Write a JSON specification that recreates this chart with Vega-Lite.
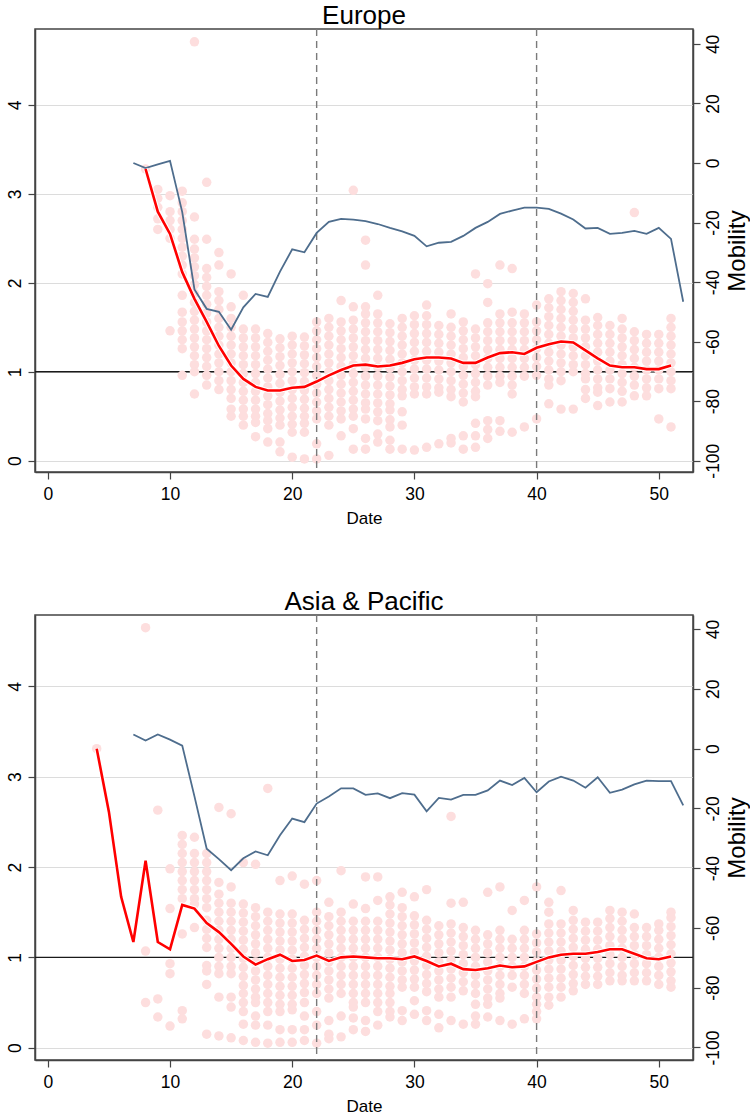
{
"$schema":"https://vega.github.io/schema/vega-lite/v6.json",
"padding":{"left":5,"top":2,"right":0,"bottom":0},
"config":{
"font":"Liberation Sans",
"view":{"stroke":"#444444","strokeWidth":1.5},
"axis":{"labelFont":"Liberation Sans","labelFontSize":17.5,"labelColor":"#000000","titleFont":"Liberation Sans","titleFontSize":17,"titleFontWeight":"normal","titleColor":"#000000","domainColor":"#444444","domainWidth":1.5,"tickColor":"#444444","tickSize":7,"tickWidth":1.2,"gridColor":"#dcdcdc","gridWidth":1},
"title":{"font":"Liberation Sans","fontSize":26,"fontWeight":"normal","color":"#000000","offset":-1},
"concat":{"spacing":60}
},
"datasets":{
"eup":[{"d":8,"r":3.28},
{"d":9,"r":3.05},{"d":9,"r":2.95},{"d":9,"r":2.85},{"d":9,"r":2.72},{"d":9,"r":2.6},
{"d":10,"r":2.98},{"d":10,"r":2.8},{"d":10,"r":2.7},{"d":10,"r":2.6},{"d":10,"r":2.5},{"d":10,"r":1.46},
{"d":11,"r":3.03},{"d":11,"r":2.9},{"d":11,"r":2.8},{"d":11,"r":2.7},{"d":11,"r":2.6},{"d":11,"r":2.5},{"d":11,"r":2.4},{"d":11,"r":2.3},{"d":11,"r":2.2},{"d":11,"r":2.1},{"d":11,"r":1.86},{"d":11,"r":1.67},{"d":11,"r":1.56},{"d":11,"r":1.46},{"d":11,"r":1.36},{"d":11,"r":1.26},{"d":11,"r":0.96},
{"d":12,"r":4.71},{"d":12,"r":2.74},{"d":12,"r":2.49},{"d":12,"r":2.38},{"d":12,"r":2.28},{"d":12,"r":2.18},{"d":12,"r":2.08},{"d":12,"r":1.98},{"d":12,"r":1.88},{"d":12,"r":1.78},{"d":12,"r":1.68},{"d":12,"r":1.58},{"d":12,"r":1.48},{"d":12,"r":1.38},{"d":12,"r":1.28},{"d":12,"r":1.18},{"d":12,"r":1.08},{"d":12,"r":1.0},{"d":12,"r":0.75},
{"d":13,"r":3.13},{"d":13,"r":2.49},{"d":13,"r":2.16},{"d":13,"r":2.06},{"d":13,"r":1.96},{"d":13,"r":1.86},{"d":13,"r":1.76},{"d":13,"r":1.66},{"d":13,"r":1.56},{"d":13,"r":1.46},{"d":13,"r":1.36},{"d":13,"r":1.26},{"d":13,"r":1.16},{"d":13,"r":1.06},{"d":13,"r":0.96},{"d":13,"r":0.85},
{"d":14,"r":2.34},{"d":14,"r":2.2},{"d":14,"r":1.9},{"d":14,"r":1.8},{"d":14,"r":1.7},{"d":14,"r":1.6},{"d":14,"r":1.5},{"d":14,"r":1.4},{"d":14,"r":1.3},{"d":14,"r":1.2},{"d":14,"r":1.1},{"d":14,"r":1.0},{"d":14,"r":0.9},{"d":14,"r":0.8},
{"d":15,"r":2.1},{"d":15,"r":1.73},{"d":15,"r":1.6},{"d":15,"r":1.5},{"d":15,"r":1.4},{"d":15,"r":1.3},{"d":15,"r":1.2},{"d":15,"r":1.1},{"d":15,"r":1.0},{"d":15,"r":0.9},{"d":15,"r":0.8},{"d":15,"r":0.7},{"d":15,"r":0.58},{"d":15,"r":0.5},
{"d":16,"r":1.86},{"d":16,"r":1.48},{"d":16,"r":1.38},{"d":16,"r":1.28},{"d":16,"r":1.18},{"d":16,"r":1.08},{"d":16,"r":0.98},{"d":16,"r":0.88},{"d":16,"r":0.78},{"d":16,"r":0.68},{"d":16,"r":0.58},{"d":16,"r":0.5},{"d":16,"r":0.4},
{"d":17,"r":1.48},{"d":17,"r":1.38},{"d":17,"r":1.28},{"d":17,"r":1.18},{"d":17,"r":1.08},{"d":17,"r":0.98},{"d":17,"r":0.88},{"d":17,"r":0.78},{"d":17,"r":0.68},{"d":17,"r":0.58},{"d":17,"r":0.5},{"d":17,"r":0.43},{"d":17,"r":0.27},
{"d":18,"r":1.43},{"d":18,"r":1.33},{"d":18,"r":1.23},{"d":18,"r":1.13},{"d":18,"r":1.03},{"d":18,"r":0.93},{"d":18,"r":0.83},{"d":18,"r":0.73},{"d":18,"r":0.63},{"d":18,"r":0.53},{"d":18,"r":0.45},{"d":18,"r":0.36},{"d":18,"r":0.21},
{"d":19,"r":1.37},{"d":19,"r":1.27},{"d":19,"r":1.17},{"d":19,"r":1.07},{"d":19,"r":0.97},{"d":19,"r":0.87},{"d":19,"r":0.77},{"d":19,"r":0.67},{"d":19,"r":0.57},{"d":19,"r":0.48},{"d":19,"r":0.4},{"d":19,"r":0.21},{"d":19,"r":0.1},
{"d":20,"r":1.4},{"d":20,"r":1.3},{"d":20,"r":1.2},{"d":20,"r":1.1},{"d":20,"r":1.0},{"d":20,"r":0.9},{"d":20,"r":0.8},{"d":20,"r":0.7},{"d":20,"r":0.6},{"d":20,"r":0.5},{"d":20,"r":0.41},{"d":20,"r":0.32},{"d":20,"r":0.04},
{"d":21,"r":1.39},{"d":21,"r":1.29},{"d":21,"r":1.19},{"d":21,"r":1.09},{"d":21,"r":0.99},{"d":21,"r":0.89},{"d":21,"r":0.79},{"d":21,"r":0.69},{"d":21,"r":0.59},{"d":21,"r":0.5},{"d":21,"r":0.42},{"d":21,"r":0.32},{"d":21,"r":0.02},
{"d":22,"r":1.56},{"d":22,"r":1.46},{"d":22,"r":1.36},{"d":22,"r":1.26},{"d":22,"r":1.16},{"d":22,"r":1.06},{"d":22,"r":0.96},{"d":22,"r":0.86},{"d":22,"r":0.76},{"d":22,"r":0.66},{"d":22,"r":0.56},{"d":22,"r":0.47},{"d":22,"r":0.19},{"d":22,"r":0.02},
{"d":23,"r":1.6},{"d":23,"r":1.5},{"d":23,"r":1.4},{"d":23,"r":1.3},{"d":23,"r":1.2},{"d":23,"r":1.1},{"d":23,"r":1.0},{"d":23,"r":0.9},{"d":23,"r":0.8},{"d":23,"r":0.7},{"d":23,"r":0.6},{"d":23,"r":0.5},{"d":23,"r":0.4},{"d":23,"r":0.06},
{"d":24,"r":1.8},{"d":24,"r":1.56},{"d":24,"r":1.46},{"d":24,"r":1.36},{"d":24,"r":1.26},{"d":24,"r":1.16},{"d":24,"r":1.06},{"d":24,"r":0.96},{"d":24,"r":0.86},{"d":24,"r":0.76},{"d":24,"r":0.66},{"d":24,"r":0.56},{"d":24,"r":0.47},{"d":24,"r":0.28},
{"d":25,"r":3.04},{"d":25,"r":1.73},{"d":25,"r":1.58},{"d":25,"r":1.48},{"d":25,"r":1.38},{"d":25,"r":1.28},{"d":25,"r":1.18},{"d":25,"r":1.08},{"d":25,"r":0.98},{"d":25,"r":0.88},{"d":25,"r":0.78},{"d":25,"r":0.68},{"d":25,"r":0.58},{"d":25,"r":0.5},{"d":25,"r":0.36},{"d":25,"r":0.13},
{"d":26,"r":2.48},{"d":26,"r":2.2},{"d":26,"r":1.73},{"d":26,"r":1.65},{"d":26,"r":1.55},{"d":26,"r":1.45},{"d":26,"r":1.35},{"d":26,"r":1.25},{"d":26,"r":1.15},{"d":26,"r":1.05},{"d":26,"r":0.95},{"d":26,"r":0.85},{"d":26,"r":0.75},{"d":26,"r":0.65},{"d":26,"r":0.58},{"d":26,"r":0.47},{"d":26,"r":0.25},{"d":26,"r":0.13},
{"d":27,"r":1.86},{"d":27,"r":1.65},{"d":27,"r":1.55},{"d":27,"r":1.45},{"d":27,"r":1.35},{"d":27,"r":1.25},{"d":27,"r":1.15},{"d":27,"r":1.05},{"d":27,"r":0.95},{"d":27,"r":0.85},{"d":27,"r":0.75},{"d":27,"r":0.65},{"d":27,"r":0.55},{"d":27,"r":0.45},{"d":27,"r":0.3},{"d":27,"r":0.21},
{"d":28,"r":1.54},{"d":28,"r":1.44},{"d":28,"r":1.34},{"d":28,"r":1.24},{"d":28,"r":1.14},{"d":28,"r":1.04},{"d":28,"r":0.94},{"d":28,"r":0.84},{"d":28,"r":0.74},{"d":28,"r":0.64},{"d":28,"r":0.57},{"d":28,"r":0.46},{"d":28,"r":0.38},{"d":28,"r":0.23},{"d":28,"r":0.13},
{"d":29,"r":1.6},{"d":29,"r":1.5},{"d":29,"r":1.4},{"d":29,"r":1.3},{"d":29,"r":1.2},{"d":29,"r":1.1},{"d":29,"r":1.0},{"d":29,"r":0.9},{"d":29,"r":0.8},{"d":29,"r":0.73},{"d":29,"r":0.55},{"d":29,"r":0.4},{"d":29,"r":0.13},
{"d":30,"r":1.63},{"d":30,"r":1.53},{"d":30,"r":1.43},{"d":30,"r":1.33},{"d":30,"r":1.23},{"d":30,"r":1.13},{"d":30,"r":1.03},{"d":30,"r":0.93},{"d":30,"r":0.83},{"d":30,"r":0.75},{"d":30,"r":0.12},
{"d":31,"r":1.75},{"d":31,"r":1.63},{"d":31,"r":1.53},{"d":31,"r":1.43},{"d":31,"r":1.33},{"d":31,"r":1.23},{"d":31,"r":1.13},{"d":31,"r":1.03},{"d":31,"r":0.93},{"d":31,"r":0.83},{"d":31,"r":0.75},{"d":31,"r":0.15},
{"d":32,"r":1.52},{"d":32,"r":1.42},{"d":32,"r":1.32},{"d":32,"r":1.22},{"d":32,"r":1.12},{"d":32,"r":1.02},{"d":32,"r":0.92},{"d":32,"r":0.82},{"d":32,"r":0.77},{"d":32,"r":0.19},
{"d":33,"r":1.65},{"d":33,"r":1.5},{"d":33,"r":1.4},{"d":33,"r":1.3},{"d":33,"r":1.2},{"d":33,"r":1.1},{"d":33,"r":1.0},{"d":33,"r":0.9},{"d":33,"r":0.8},{"d":33,"r":0.72},{"d":33,"r":0.25},{"d":33,"r":0.2},
{"d":34,"r":1.56},{"d":34,"r":1.46},{"d":34,"r":1.36},{"d":34,"r":1.26},{"d":34,"r":1.16},{"d":34,"r":1.06},{"d":34,"r":0.96},{"d":34,"r":0.86},{"d":34,"r":0.76},{"d":34,"r":0.66},{"d":34,"r":0.28},{"d":34,"r":0.13},
{"d":35,"r":2.1},{"d":35,"r":1.48},{"d":35,"r":1.38},{"d":35,"r":1.28},{"d":35,"r":1.18},{"d":35,"r":1.08},{"d":35,"r":0.98},{"d":35,"r":0.88},{"d":35,"r":0.78},{"d":35,"r":0.72},{"d":35,"r":0.42},{"d":35,"r":0.28},{"d":35,"r":0.15},
{"d":36,"r":1.99},{"d":36,"r":1.78},{"d":36,"r":1.55},{"d":36,"r":1.45},{"d":36,"r":1.35},{"d":36,"r":1.25},{"d":36,"r":1.15},{"d":36,"r":1.05},{"d":36,"r":0.95},{"d":36,"r":0.85},{"d":36,"r":0.45},{"d":36,"r":0.35},{"d":36,"r":0.25},
{"d":37,"r":2.2},{"d":37,"r":1.65},{"d":37,"r":1.55},{"d":37,"r":1.45},{"d":37,"r":1.35},{"d":37,"r":1.25},{"d":37,"r":1.15},{"d":37,"r":1.05},{"d":37,"r":0.95},{"d":37,"r":0.88},{"d":37,"r":0.45},{"d":37,"r":0.33},
{"d":38,"r":2.16},{"d":38,"r":1.67},{"d":38,"r":1.55},{"d":38,"r":1.45},{"d":38,"r":1.35},{"d":38,"r":1.25},{"d":38,"r":1.15},{"d":38,"r":1.05},{"d":38,"r":0.95},{"d":38,"r":0.85},{"d":38,"r":0.75},{"d":38,"r":0.32},
{"d":39,"r":1.65},{"d":39,"r":1.55},{"d":39,"r":1.45},{"d":39,"r":1.35},{"d":39,"r":1.25},{"d":39,"r":1.15},{"d":39,"r":1.05},{"d":39,"r":0.95},{"d":39,"r":0.38},
{"d":40,"r":1.75},{"d":40,"r":1.56},{"d":40,"r":1.46},{"d":40,"r":1.36},{"d":40,"r":1.26},{"d":40,"r":1.16},{"d":40,"r":1.06},{"d":40,"r":0.96},{"d":40,"r":0.47},
{"d":41,"r":1.82},{"d":41,"r":1.72},{"d":41,"r":1.62},{"d":41,"r":1.52},{"d":41,"r":1.42},{"d":41,"r":1.32},{"d":41,"r":1.22},{"d":41,"r":1.12},{"d":41,"r":1.02},{"d":41,"r":0.92},{"d":41,"r":0.85},{"d":41,"r":0.64},
{"d":42,"r":1.9},{"d":42,"r":1.8},{"d":42,"r":1.7},{"d":42,"r":1.6},{"d":42,"r":1.5},{"d":42,"r":1.4},{"d":42,"r":1.3},{"d":42,"r":1.2},{"d":42,"r":1.1},{"d":42,"r":1.0},{"d":42,"r":0.9},{"d":42,"r":0.58},
{"d":43,"r":1.88},{"d":43,"r":1.78},{"d":43,"r":1.68},{"d":43,"r":1.58},{"d":43,"r":1.48},{"d":43,"r":1.38},{"d":43,"r":1.28},{"d":43,"r":1.18},{"d":43,"r":1.08},{"d":43,"r":1.0},{"d":43,"r":0.58},
{"d":44,"r":1.82},{"d":44,"r":1.58},{"d":44,"r":1.48},{"d":44,"r":1.38},{"d":44,"r":1.28},{"d":44,"r":1.18},{"d":44,"r":1.08},{"d":44,"r":0.98},{"d":44,"r":0.92},{"d":44,"r":0.8},{"d":44,"r":0.7},
{"d":45,"r":1.61},{"d":45,"r":1.52},{"d":45,"r":1.42},{"d":45,"r":1.32},{"d":45,"r":1.22},{"d":45,"r":1.12},{"d":45,"r":1.02},{"d":45,"r":0.92},{"d":45,"r":0.82},{"d":45,"r":0.77},{"d":45,"r":0.62},
{"d":46,"r":1.52},{"d":46,"r":1.42},{"d":46,"r":1.32},{"d":46,"r":1.22},{"d":46,"r":1.12},{"d":46,"r":1.02},{"d":46,"r":0.92},{"d":46,"r":0.81},{"d":46,"r":0.66},
{"d":47,"r":1.6},{"d":47,"r":1.48},{"d":47,"r":1.38},{"d":47,"r":1.28},{"d":47,"r":1.18},{"d":47,"r":1.08},{"d":47,"r":0.98},{"d":47,"r":0.88},{"d":47,"r":0.78},{"d":47,"r":0.66},
{"d":48,"r":2.79},{"d":48,"r":1.45},{"d":48,"r":1.35},{"d":48,"r":1.25},{"d":48,"r":1.15},{"d":48,"r":1.05},{"d":48,"r":0.95},{"d":48,"r":0.85},{"d":48,"r":0.73},
{"d":49,"r":1.42},{"d":49,"r":1.32},{"d":49,"r":1.22},{"d":49,"r":1.12},{"d":49,"r":1.02},{"d":49,"r":0.92},{"d":49,"r":0.82},{"d":49,"r":0.73},
{"d":50,"r":1.42},{"d":50,"r":1.32},{"d":50,"r":1.22},{"d":50,"r":1.12},{"d":50,"r":1.02},{"d":50,"r":0.92},{"d":50,"r":0.81},{"d":50,"r":0.47},
{"d":51,"r":1.6},{"d":51,"r":1.5},{"d":51,"r":1.4},{"d":51,"r":1.3},{"d":51,"r":1.2},{"d":51,"r":1.1},{"d":51,"r":1.0},{"d":51,"r":0.9},{"d":51,"r":0.81},{"d":51,"r":0.38}],
"eur":[{"d":8,"r":3.28},{"d":9,"r":2.8},{"d":10,"r":2.55},{"d":11,"r":2.12},{"d":12,"r":1.82},{"d":13,"r":1.56},{"d":14,"r":1.29},{"d":15,"r":1.07},{"d":16,"r":0.92},{"d":17,"r":0.83},{"d":18,"r":0.79},{"d":19,"r":0.79},{"d":20,"r":0.82},{"d":21,"r":0.83},{"d":22,"r":0.89},{"d":23,"r":0.96},{"d":24,"r":1.02},{"d":25,"r":1.07},{"d":26,"r":1.08},{"d":27,"r":1.06},{"d":28,"r":1.07},{"d":29,"r":1.1},{"d":30,"r":1.14},{"d":31,"r":1.16},{"d":32,"r":1.16},{"d":33,"r":1.15},{"d":34,"r":1.1},{"d":35,"r":1.1},{"d":36,"r":1.16},{"d":37,"r":1.21},{"d":38,"r":1.22},{"d":39,"r":1.2},{"d":40,"r":1.27},{"d":41,"r":1.31},{"d":42,"r":1.34},{"d":43,"r":1.33},{"d":44,"r":1.24},{"d":45,"r":1.15},{"d":46,"r":1.07},{"d":47,"r":1.05},{"d":48,"r":1.05},{"d":49,"r":1.03},{"d":50,"r":1.03},{"d":51,"r":1.07}],
"eum":[{"d":7,"m":0},{"d":8,"m":-1.7},{"d":9,"m":-0.5},{"d":10,"m":0.7},{"d":11,"m":-16.5},{"d":12,"m":-42.5},{"d":13,"m":-49},{"d":14,"m":-50},{"d":15,"m":-56},{"d":16,"m":-48.5},{"d":17,"m":-44},{"d":18,"m":-45},{"d":19,"m":-36.5},{"d":20,"m":-29},{"d":21,"m":-30},{"d":22,"m":-23.5},{"d":23,"m":-19.8},{"d":24,"m":-18.8},{"d":25,"m":-19},{"d":26,"m":-19.5},{"d":27,"m":-20.5},{"d":28,"m":-21.8},{"d":29,"m":-23},{"d":30,"m":-24.5},{"d":31,"m":-28},{"d":32,"m":-26.8},{"d":33,"m":-26.5},{"d":34,"m":-24.5},{"d":35,"m":-21.8},{"d":36,"m":-19.8},{"d":37,"m":-17.1},{"d":38,"m":-16},{"d":39,"m":-15},{"d":40,"m":-15},{"d":41,"m":-15.4},{"d":42,"m":-17},{"d":43,"m":-19},{"d":44,"m":-22},{"d":45,"m":-21.8},{"d":46,"m":-23.8},{"d":47,"m":-23.5},{"d":48,"m":-22.8},{"d":49,"m":-23.8},{"d":50,"m":-21.8},{"d":51,"m":-25.5},{"d":52,"m":-46.6}],
"app":[{"d":4,"r":3.31},
{"d":8,"r":4.65},{"d":8,"r":1.07},{"d":8,"r":0.5},
{"d":9,"r":2.63},{"d":9,"r":0.54},{"d":9,"r":0.34},
{"d":10,"r":1.98},{"d":10,"r":1.54},{"d":10,"r":0.93},{"d":10,"r":0.82},{"d":10,"r":0.24},
{"d":11,"r":2.35},{"d":11,"r":2.25},{"d":11,"r":2.15},{"d":11,"r":2.05},{"d":11,"r":1.95},{"d":11,"r":1.85},{"d":11,"r":1.75},{"d":11,"r":1.65},{"d":11,"r":1.26},{"d":11,"r":0.41},{"d":11,"r":0.32},
{"d":12,"r":2.33},{"d":12,"r":2.15},{"d":12,"r":2.05},{"d":12,"r":1.95},{"d":12,"r":1.85},{"d":12,"r":1.75},{"d":12,"r":1.65},{"d":12,"r":1.59},{"d":12,"r":1.33},
{"d":13,"r":2.15},{"d":13,"r":2.05},{"d":13,"r":1.95},{"d":13,"r":1.85},{"d":13,"r":1.75},{"d":13,"r":1.65},{"d":13,"r":1.55},{"d":13,"r":1.41},{"d":13,"r":1.31},{"d":13,"r":1.21},{"d":13,"r":1.11},{"d":13,"r":0.91},{"d":13,"r":0.85},{"d":13,"r":0.7},{"d":13,"r":0.15},
{"d":14,"r":2.66},{"d":14,"r":1.83},{"d":14,"r":1.7},{"d":14,"r":1.6},{"d":14,"r":1.5},{"d":14,"r":1.4},{"d":14,"r":1.3},{"d":14,"r":1.2},{"d":14,"r":1.1},{"d":14,"r":1.0},{"d":14,"r":0.9},{"d":14,"r":0.82},{"d":14,"r":0.56},{"d":14,"r":0.13},
{"d":15,"r":2.59},{"d":15,"r":1.78},{"d":15,"r":1.6},{"d":15,"r":1.5},{"d":15,"r":1.4},{"d":15,"r":1.3},{"d":15,"r":1.2},{"d":15,"r":1.1},{"d":15,"r":1.0},{"d":15,"r":0.9},{"d":15,"r":0.82},{"d":15,"r":0.56},{"d":15,"r":0.45},{"d":15,"r":0.11},
{"d":16,"r":2.05},{"d":16,"r":1.59},{"d":16,"r":1.49},{"d":16,"r":1.39},{"d":16,"r":1.29},{"d":16,"r":1.19},{"d":16,"r":1.09},{"d":16,"r":0.99},{"d":16,"r":0.89},{"d":16,"r":0.79},{"d":16,"r":0.69},{"d":16,"r":0.6},{"d":16,"r":0.5},{"d":16,"r":0.4},{"d":16,"r":0.26},{"d":16,"r":0.08},
{"d":17,"r":2.03},{"d":17,"r":1.55},{"d":17,"r":1.45},{"d":17,"r":1.35},{"d":17,"r":1.25},{"d":17,"r":1.15},{"d":17,"r":1.05},{"d":17,"r":0.95},{"d":17,"r":0.85},{"d":17,"r":0.75},{"d":17,"r":0.65},{"d":17,"r":0.56},{"d":17,"r":0.5},{"d":17,"r":0.35},{"d":17,"r":0.25},{"d":17,"r":0.06},
{"d":18,"r":2.87},{"d":18,"r":1.5},{"d":18,"r":1.4},{"d":18,"r":1.3},{"d":18,"r":1.2},{"d":18,"r":1.1},{"d":18,"r":1.0},{"d":18,"r":0.9},{"d":18,"r":0.8},{"d":18,"r":0.7},{"d":18,"r":0.6},{"d":18,"r":0.5},{"d":18,"r":0.4},{"d":18,"r":0.25},{"d":18,"r":0.05},
{"d":19,"r":1.85},{"d":19,"r":1.48},{"d":19,"r":1.38},{"d":19,"r":1.28},{"d":19,"r":1.18},{"d":19,"r":1.08},{"d":19,"r":0.98},{"d":19,"r":0.88},{"d":19,"r":0.78},{"d":19,"r":0.68},{"d":19,"r":0.58},{"d":19,"r":0.48},{"d":19,"r":0.4},{"d":19,"r":0.2},{"d":19,"r":0.06},
{"d":20,"r":1.9},{"d":20,"r":1.48},{"d":20,"r":1.38},{"d":20,"r":1.28},{"d":20,"r":1.18},{"d":20,"r":1.08},{"d":20,"r":0.98},{"d":20,"r":0.88},{"d":20,"r":0.78},{"d":20,"r":0.68},{"d":20,"r":0.58},{"d":20,"r":0.48},{"d":20,"r":0.42},{"d":20,"r":0.2},{"d":20,"r":0.06},
{"d":21,"r":1.81},{"d":21,"r":1.41},{"d":21,"r":1.31},{"d":21,"r":1.21},{"d":21,"r":1.11},{"d":21,"r":1.01},{"d":21,"r":0.91},{"d":21,"r":0.81},{"d":21,"r":0.71},{"d":21,"r":0.61},{"d":21,"r":0.5},{"d":21,"r":0.35},{"d":21,"r":0.2},{"d":21,"r":0.08},
{"d":22,"r":1.85},{"d":22,"r":1.5},{"d":22,"r":1.4},{"d":22,"r":1.3},{"d":22,"r":1.2},{"d":22,"r":1.1},{"d":22,"r":1.0},{"d":22,"r":0.9},{"d":22,"r":0.8},{"d":22,"r":0.7},{"d":22,"r":0.6},{"d":22,"r":0.4},{"d":22,"r":0.25},{"d":22,"r":0.05},
{"d":23,"r":1.61},{"d":23,"r":1.45},{"d":23,"r":1.35},{"d":23,"r":1.25},{"d":23,"r":1.15},{"d":23,"r":1.05},{"d":23,"r":0.95},{"d":23,"r":0.85},{"d":23,"r":0.75},{"d":23,"r":0.65},{"d":23,"r":0.55},{"d":23,"r":0.3},{"d":23,"r":0.15},{"d":23,"r":0.1},
{"d":24,"r":1.96},{"d":24,"r":1.5},{"d":24,"r":1.4},{"d":24,"r":1.3},{"d":24,"r":1.2},{"d":24,"r":1.1},{"d":24,"r":1.0},{"d":24,"r":0.9},{"d":24,"r":0.8},{"d":24,"r":0.7},{"d":24,"r":0.6},{"d":24,"r":0.35},{"d":24,"r":0.12},
{"d":25,"r":1.59},{"d":25,"r":1.4},{"d":25,"r":1.3},{"d":25,"r":1.2},{"d":25,"r":1.1},{"d":25,"r":1.0},{"d":25,"r":0.9},{"d":25,"r":0.8},{"d":25,"r":0.7},{"d":25,"r":0.6},{"d":25,"r":0.5},{"d":25,"r":0.45},{"d":25,"r":0.33},{"d":25,"r":0.2},
{"d":26,"r":1.89},{"d":26,"r":1.54},{"d":26,"r":1.4},{"d":26,"r":1.3},{"d":26,"r":1.2},{"d":26,"r":1.1},{"d":26,"r":1.0},{"d":26,"r":0.9},{"d":26,"r":0.8},{"d":26,"r":0.7},{"d":26,"r":0.6},{"d":26,"r":0.5},{"d":26,"r":0.3},{"d":26,"r":0.18},
{"d":27,"r":1.89},{"d":27,"r":1.63},{"d":27,"r":1.4},{"d":27,"r":1.3},{"d":27,"r":1.2},{"d":27,"r":1.1},{"d":27,"r":1.0},{"d":27,"r":0.9},{"d":27,"r":0.8},{"d":27,"r":0.7},{"d":27,"r":0.6},{"d":27,"r":0.5},{"d":27,"r":0.4},{"d":27,"r":0.25},
{"d":28,"r":1.67},{"d":28,"r":1.58},{"d":28,"r":1.48},{"d":28,"r":1.38},{"d":28,"r":1.28},{"d":28,"r":1.18},{"d":28,"r":1.08},{"d":28,"r":0.98},{"d":28,"r":0.88},{"d":28,"r":0.78},{"d":28,"r":0.68},{"d":28,"r":0.6},{"d":28,"r":0.5},{"d":28,"r":0.4},{"d":28,"r":0.34},
{"d":29,"r":1.72},{"d":29,"r":1.55},{"d":29,"r":1.45},{"d":29,"r":1.35},{"d":29,"r":1.25},{"d":29,"r":1.15},{"d":29,"r":1.05},{"d":29,"r":0.95},{"d":29,"r":0.85},{"d":29,"r":0.75},{"d":29,"r":0.67},{"d":29,"r":0.41},{"d":29,"r":0.3},
{"d":30,"r":1.67},{"d":30,"r":1.46},{"d":30,"r":1.36},{"d":30,"r":1.26},{"d":30,"r":1.16},{"d":30,"r":1.06},{"d":30,"r":0.96},{"d":30,"r":0.86},{"d":30,"r":0.76},{"d":30,"r":0.67},{"d":30,"r":0.52},{"d":30,"r":0.37},
{"d":31,"r":1.75},{"d":31,"r":1.41},{"d":31,"r":1.31},{"d":31,"r":1.21},{"d":31,"r":1.11},{"d":31,"r":1.01},{"d":31,"r":0.91},{"d":31,"r":0.81},{"d":31,"r":0.71},{"d":31,"r":0.62},{"d":31,"r":0.41},{"d":31,"r":0.3},
{"d":32,"r":1.35},{"d":32,"r":1.25},{"d":32,"r":1.15},{"d":32,"r":1.05},{"d":32,"r":0.95},{"d":32,"r":0.85},{"d":32,"r":0.75},{"d":32,"r":0.65},{"d":32,"r":0.56},{"d":32,"r":0.37},{"d":32,"r":0.22},
{"d":33,"r":2.56},{"d":33,"r":1.6},{"d":33,"r":1.37},{"d":33,"r":1.27},{"d":33,"r":1.17},{"d":33,"r":1.07},{"d":33,"r":0.97},{"d":33,"r":0.87},{"d":33,"r":0.77},{"d":33,"r":0.67},{"d":33,"r":0.56},{"d":33,"r":0.3},
{"d":34,"r":1.61},{"d":34,"r":1.33},{"d":34,"r":1.23},{"d":34,"r":1.13},{"d":34,"r":1.03},{"d":34,"r":0.93},{"d":34,"r":0.83},{"d":34,"r":0.73},{"d":34,"r":0.63},{"d":34,"r":0.26},
{"d":35,"r":1.3},{"d":35,"r":1.2},{"d":35,"r":1.1},{"d":35,"r":1.0},{"d":35,"r":0.9},{"d":35,"r":0.8},{"d":35,"r":0.7},{"d":35,"r":0.6},{"d":35,"r":0.48},{"d":35,"r":0.35},{"d":35,"r":0.26},
{"d":36,"r":1.72},{"d":36,"r":1.25},{"d":36,"r":1.15},{"d":36,"r":1.05},{"d":36,"r":0.95},{"d":36,"r":0.85},{"d":36,"r":0.75},{"d":36,"r":0.65},{"d":36,"r":0.55},{"d":36,"r":0.48},{"d":36,"r":0.34},
{"d":37,"r":1.78},{"d":37,"r":1.3},{"d":37,"r":1.2},{"d":37,"r":1.1},{"d":37,"r":1.0},{"d":37,"r":0.9},{"d":37,"r":0.8},{"d":37,"r":0.7},{"d":37,"r":0.6},{"d":37,"r":0.55},{"d":37,"r":0.3},
{"d":38,"r":1.52},{"d":38,"r":1.2},{"d":38,"r":1.1},{"d":38,"r":1.0},{"d":38,"r":0.9},{"d":38,"r":0.8},{"d":38,"r":0.67},{"d":38,"r":0.26},
{"d":39,"r":1.63},{"d":39,"r":1.3},{"d":39,"r":1.2},{"d":39,"r":1.1},{"d":39,"r":1.0},{"d":39,"r":0.9},{"d":39,"r":0.8},{"d":39,"r":0.7},{"d":39,"r":0.6},{"d":39,"r":0.32},
{"d":40,"r":1.78},{"d":40,"r":1.26},{"d":40,"r":1.16},{"d":40,"r":1.06},{"d":40,"r":0.96},{"d":40,"r":0.86},{"d":40,"r":0.76},{"d":40,"r":0.66},{"d":40,"r":0.56},{"d":40,"r":0.48},{"d":40,"r":0.4},{"d":40,"r":0.32},
{"d":41,"r":1.61},{"d":41,"r":1.5},{"d":41,"r":1.37},{"d":41,"r":1.27},{"d":41,"r":1.17},{"d":41,"r":1.07},{"d":41,"r":0.97},{"d":41,"r":0.87},{"d":41,"r":0.77},{"d":41,"r":0.67},{"d":41,"r":0.56},{"d":41,"r":0.47},
{"d":42,"r":1.74},{"d":42,"r":1.37},{"d":42,"r":1.27},{"d":42,"r":1.17},{"d":42,"r":1.07},{"d":42,"r":0.97},{"d":42,"r":0.87},{"d":42,"r":0.77},{"d":42,"r":0.67},{"d":42,"r":0.56},
{"d":43,"r":1.52},{"d":43,"r":1.41},{"d":43,"r":1.31},{"d":43,"r":1.21},{"d":43,"r":1.11},{"d":43,"r":1.01},{"d":43,"r":0.91},{"d":43,"r":0.81},{"d":43,"r":0.71},{"d":43,"r":0.63},
{"d":44,"r":1.39},{"d":44,"r":1.29},{"d":44,"r":1.19},{"d":44,"r":1.09},{"d":44,"r":0.99},{"d":44,"r":0.89},{"d":44,"r":0.79},{"d":44,"r":0.7},
{"d":45,"r":1.39},{"d":45,"r":1.29},{"d":45,"r":1.19},{"d":45,"r":1.09},{"d":45,"r":0.99},{"d":45,"r":0.89},{"d":45,"r":0.79},{"d":45,"r":0.7},
{"d":46,"r":1.52},{"d":46,"r":1.43},{"d":46,"r":1.33},{"d":46,"r":1.23},{"d":46,"r":1.13},{"d":46,"r":1.03},{"d":46,"r":0.93},{"d":46,"r":0.83},{"d":46,"r":0.74},
{"d":47,"r":1.5},{"d":47,"r":1.4},{"d":47,"r":1.3},{"d":47,"r":1.2},{"d":47,"r":1.1},{"d":47,"r":1.0},{"d":47,"r":0.9},{"d":47,"r":0.8},{"d":47,"r":0.74},
{"d":48,"r":1.48},{"d":48,"r":1.33},{"d":48,"r":1.23},{"d":48,"r":1.13},{"d":48,"r":1.03},{"d":48,"r":0.93},{"d":48,"r":0.83},{"d":48,"r":0.74},
{"d":49,"r":1.33},{"d":49,"r":1.23},{"d":49,"r":1.13},{"d":49,"r":1.03},{"d":49,"r":0.93},{"d":49,"r":0.83},{"d":49,"r":0.74},
{"d":50,"r":1.37},{"d":50,"r":1.3},{"d":50,"r":1.2},{"d":50,"r":1.1},{"d":50,"r":1.0},{"d":50,"r":0.9},{"d":50,"r":0.8},{"d":50,"r":0.7},
{"d":51,"r":1.5},{"d":51,"r":1.44},{"d":51,"r":1.34},{"d":51,"r":1.24},{"d":51,"r":1.14},{"d":51,"r":1.04},{"d":51,"r":0.94},{"d":51,"r":0.84},{"d":51,"r":0.74},{"d":51,"r":0.67}],
"apr":[{"d":4,"r":3.31},{"d":5,"r":2.61},{"d":6,"r":1.67},{"d":7,"r":1.17},{"d":8,"r":2.07},{"d":9,"r":1.17},{"d":10,"r":1.09},{"d":11,"r":1.58},{"d":12,"r":1.54},{"d":13,"r":1.38},{"d":14,"r":1.28},{"d":15,"r":1.15},{"d":16,"r":1.01},{"d":17,"r":0.92},{"d":18,"r":0.98},{"d":19,"r":1.03},{"d":20,"r":0.96},{"d":21,"r":0.97},{"d":22,"r":1.02},{"d":23,"r":0.96},{"d":24,"r":1.0},{"d":25,"r":1.01},{"d":26,"r":1.0},{"d":27,"r":0.99},{"d":28,"r":0.99},{"d":29,"r":0.98},{"d":30,"r":1.01},{"d":31,"r":0.96},{"d":32,"r":0.9},{"d":33,"r":0.93},{"d":34,"r":0.87},{"d":35,"r":0.86},{"d":36,"r":0.88},{"d":37,"r":0.91},{"d":38,"r":0.89},{"d":39,"r":0.9},{"d":40,"r":0.95},{"d":41,"r":1.0},{"d":42,"r":1.03},{"d":43,"r":1.04},{"d":44,"r":1.04},{"d":45,"r":1.06},{"d":46,"r":1.09},{"d":47,"r":1.09},{"d":48,"r":1.04},{"d":49,"r":0.99},{"d":50,"r":0.98},{"d":51,"r":1.01}],
"apm":[{"d":7,"m":4.7},{"d":8,"m":2.7},{"d":9,"m":4.7},{"d":10,"m":3},{"d":11,"m":1},{"d":12,"m":-16},{"d":13,"m":-33.5},{"d":14,"m":-37},{"d":15,"m":-40.7},{"d":16,"m":-36.7},{"d":17,"m":-34.4},{"d":18,"m":-35.7},{"d":19,"m":-29},{"d":20,"m":-23.4},{"d":21,"m":-24.6},{"d":22,"m":-18.4},{"d":23,"m":-16},{"d":24,"m":-13.3},{"d":25,"m":-13.3},{"d":26,"m":-15.5},{"d":27,"m":-15},{"d":28,"m":-16.6},{"d":29,"m":-14.9},{"d":30,"m":-15.4},{"d":31,"m":-21},{"d":32,"m":-16.5},{"d":33,"m":-17.1},{"d":34,"m":-15.5},{"d":35,"m":-15.5},{"d":36,"m":-14},{"d":37,"m":-10.7},{"d":38,"m":-12.2},{"d":39,"m":-9.8},{"d":40,"m":-14.6},{"d":41,"m":-11},{"d":42,"m":-9.4},{"d":43,"m":-10.7},{"d":44,"m":-13.1},{"d":45,"m":-9.6},{"d":46,"m":-14.8},{"d":47,"m":-13.7},{"d":48,"m":-12},{"d":49,"m":-10.7},{"d":50,"m":-10.9},{"d":51,"m":-10.9},{"d":52,"m":-19}]
},
"vconcat":[
{"title":{"text":"Europe"},"width":658,"height":443,
"resolve":{"scale":{"y":"independent"}},
"layer":[
{"data":{"values":[{"r":1}]},"mark":{"type":"rule","color":"#1a1a1a","strokeWidth":1.3},
 "encoding":{"y":{"field":"r","type":"quantitative","scale":{"domain":[-0.127,4.854],"nice":false,"zero":false},"axis":null}}},
{"data":{"name":"eup"},"mark":{"type":"circle","color":"#fddede","opacity":1,"size":90},
 "encoding":{"x":{"field":"d","type":"quantitative","scale":{"domain":[-1.05,52.8],"nice":false,"zero":false},"axis":{"title":"Date","values":[0,10,20,30,40,50],"grid":false,"labelPadding":6,"titlePadding":8,"labelFlush":false}},
 "y":{"field":"r","type":"quantitative","scale":{"domain":[-0.127,4.854],"nice":false,"zero":false},"axis":{"title":null,"orient":"left","values":[0,1,2,3,4],"grid":true,"labelAngle":-90,"labelPadding":4}}}},
{"data":{"values":[{"d":22},{"d":40}]},"mark":{"type":"rule","color":"#7a7a7a","strokeWidth":1.4,"strokeDash":[7,5]},
 "encoding":{"x":{"field":"d","type":"quantitative","scale":{"domain":[-1.05,52.8],"nice":false,"zero":false},"axis":{"title":"Date","values":[0,10,20,30,40,50],"grid":false,"labelPadding":6,"titlePadding":8,"labelFlush":false}}}},
{"data":{"name":"eum"},"mark":{"type":"line","color":"#4e6d8d","strokeWidth":1.8},
 "encoding":{"x":{"field":"d","type":"quantitative","scale":{"domain":[-1.05,52.8],"nice":false,"zero":false},"axis":{"title":"Date","values":[0,10,20,30,40,50],"grid":false,"labelPadding":6,"titlePadding":8,"labelFlush":false}},
 "y":{"field":"m","type":"quantitative","scale":{"domain":[-103.8,45],"nice":false,"zero":false},"axis":{"title":"Mobility","orient":"right","values":[-100,-80,-60,-40,-20,0,20,40],"labelExpr":"''+datum.value","grid":false,"labelAngle":-90,"labelPadding":4,"titleAngle":-90,"titleBaseline":"top","titlePadding":4,"titleFontSize":24}}}},
{"data":{"name":"eur"},"mark":{"type":"line","color":"#ffffff","strokeWidth":4.6},
 "encoding":{"x":{"field":"d","type":"quantitative","scale":{"domain":[-1.05,52.8],"nice":false,"zero":false},"axis":{"title":"Date","values":[0,10,20,30,40,50],"grid":false,"labelPadding":6,"titlePadding":8,"labelFlush":false}},
 "y":{"field":"r","type":"quantitative","scale":{"domain":[-0.127,4.854],"nice":false,"zero":false},"axis":null}}},
{"data":{"name":"eur"},"mark":{"type":"line","color":"#ff0000","strokeWidth":2.6},
 "encoding":{"x":{"field":"d","type":"quantitative","scale":{"domain":[-1.05,52.8],"nice":false,"zero":false},"axis":{"title":"Date","values":[0,10,20,30,40,50],"grid":false,"labelPadding":6,"titlePadding":8,"labelFlush":false}},
 "y":{"field":"r","type":"quantitative","scale":{"domain":[-0.127,4.854],"nice":false,"zero":false},"axis":null}}}
]},
{"title":{"text":"Asia & Pacific"},"width":658,"height":445,
"resolve":{"scale":{"y":"independent"}},
"layer":[
{"data":{"values":[{"r":1}]},"mark":{"type":"rule","color":"#1a1a1a","strokeWidth":1.3},
 "encoding":{"y":{"field":"r","type":"quantitative","scale":{"domain":[-0.136,4.79],"nice":false,"zero":false},"axis":null}}},
{"data":{"name":"app"},"mark":{"type":"circle","color":"#fddede","opacity":1,"size":90},
 "encoding":{"x":{"field":"d","type":"quantitative","scale":{"domain":[-1.05,52.8],"nice":false,"zero":false},"axis":{"title":"Date","values":[0,10,20,30,40,50],"grid":false,"labelPadding":6,"titlePadding":8,"labelFlush":false}},
 "y":{"field":"r","type":"quantitative","scale":{"domain":[-0.136,4.79],"nice":false,"zero":false},"axis":{"title":null,"orient":"left","values":[0,1,2,3,4],"grid":true,"labelAngle":-90,"labelPadding":4}}}},
{"data":{"values":[{"d":22},{"d":40}]},"mark":{"type":"rule","color":"#7a7a7a","strokeWidth":1.4,"strokeDash":[7,5]},
 "encoding":{"x":{"field":"d","type":"quantitative","scale":{"domain":[-1.05,52.8],"nice":false,"zero":false},"axis":{"title":"Date","values":[0,10,20,30,40,50],"grid":false,"labelPadding":6,"titlePadding":8,"labelFlush":false}}}},
{"data":{"name":"apm"},"mark":{"type":"line","color":"#4e6d8d","strokeWidth":1.8},
 "encoding":{"x":{"field":"d","type":"quantitative","scale":{"domain":[-1.05,52.8],"nice":false,"zero":false},"axis":{"title":"Date","values":[0,10,20,30,40,50],"grid":false,"labelPadding":6,"titlePadding":8,"labelFlush":false}},
 "y":{"field":"m","type":"quantitative","scale":{"domain":[-104.2,44.7],"nice":false,"zero":false},"axis":{"title":"Mobility","orient":"right","values":[-100,-80,-60,-40,-20,0,20,40],"labelExpr":"''+datum.value","grid":false,"labelAngle":-90,"labelPadding":4,"titleAngle":-90,"titleBaseline":"top","titlePadding":4,"titleFontSize":24}}}},
{"data":{"name":"apr"},"mark":{"type":"line","color":"#ffffff","strokeWidth":4.6},
 "encoding":{"x":{"field":"d","type":"quantitative","scale":{"domain":[-1.05,52.8],"nice":false,"zero":false},"axis":{"title":"Date","values":[0,10,20,30,40,50],"grid":false,"labelPadding":6,"titlePadding":8,"labelFlush":false}},
 "y":{"field":"r","type":"quantitative","scale":{"domain":[-0.136,4.79],"nice":false,"zero":false},"axis":null}}},
{"data":{"name":"apr"},"mark":{"type":"line","color":"#ff0000","strokeWidth":2.6},
 "encoding":{"x":{"field":"d","type":"quantitative","scale":{"domain":[-1.05,52.8],"nice":false,"zero":false},"axis":{"title":"Date","values":[0,10,20,30,40,50],"grid":false,"labelPadding":6,"titlePadding":8,"labelFlush":false}},
 "y":{"field":"r","type":"quantitative","scale":{"domain":[-0.136,4.79],"nice":false,"zero":false},"axis":null}}}
]}
]
}
